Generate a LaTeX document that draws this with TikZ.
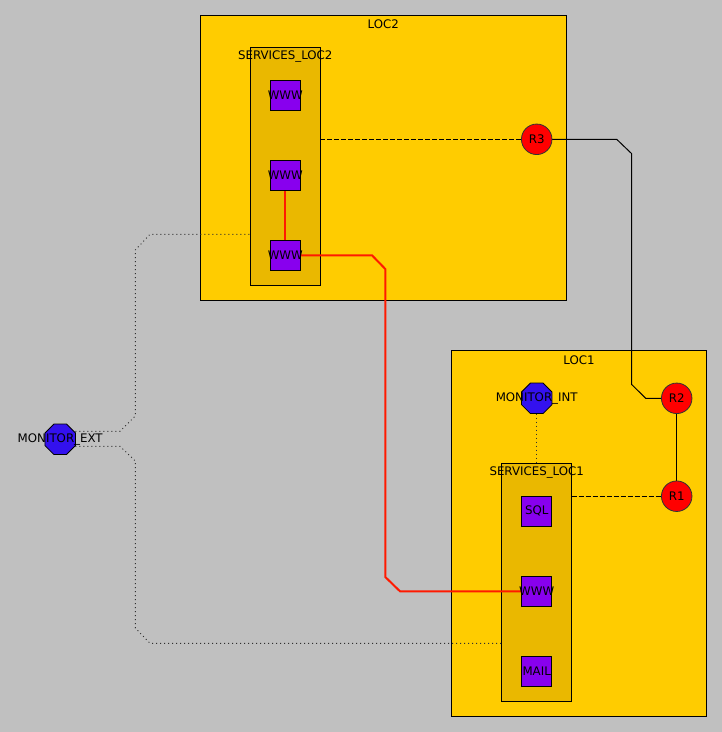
\documentclass[tikz,border=0pt]{standalone}
\usepackage{fontspec}
\setmainfont{DejaVu Sans}
\usetikzlibrary{shapes.geometric}
\definecolor{bgc}{HTML}{C0C0C0}
\definecolor{locfill}{HTML}{FFCC00}
\definecolor{svcfill}{HTML}{EAB800}
\definecolor{leaffill}{HTML}{8800EE}
\definecolor{monfill}{HTML}{3311EE}
\definecolor{rfill}{HTML}{FF0000}
\definecolor{redwire}{HTML}{FF1A00}
\definecolor{dotc}{HTML}{303030}
\pgfdeclarelayer{bgplane}
\pgfdeclarelayer{boxlayer}
\pgfdeclarelayer{edgelayer}
\pgfsetlayers{bgplane,boxlayer,edgelayer,main}
\begin{document}
\begin{tikzpicture}[x=1pt,y=-1pt,
  font=\fontsize{11.8}{14}\selectfont,
  locbox/.style={draw=black, line width=1pt, fill=locfill, anchor=north west, inner sep=0pt, outer sep=0pt},
  svcbox/.style={draw=black, line width=1pt, fill=svcfill, anchor=north west, inner sep=0pt, outer sep=0pt},
  lbl/.style={inner sep=0pt, text=black},
  leaf/.style={draw=black, line width=1pt, fill=leaffill, minimum size=30pt, inner sep=0pt, outer sep=0pt},
  router/.style={circle, draw=black!80, line width=0.8pt, fill=rfill, minimum size=30.5pt, inner sep=0pt, outer sep=0pt},
  mon/.style={regular polygon, regular polygon sides=8, draw=black, line width=0.8pt, fill=monfill, minimum size=33pt, inner sep=0pt, outer sep=0pt},
  wire/.style={draw=black, line width=1pt},
  redline/.style={draw=redwire, line width=2pt},
  dashline/.style={draw=black, line width=0.9pt, dash pattern=on 5pt off 2pt},
  dotline/.style={draw=dotc, line width=0.9pt, dash pattern=on 1pt off 3pt},
]
\useasboundingbox (0,0) rectangle (722,732);
\begin{pgfonlayer}{bgplane}
\fill[bgc] (0,0) rectangle (722,732);
\end{pgfonlayer}

\begin{pgfonlayer}{boxlayer}
\node[locbox, minimum width=366pt, minimum height=285pt] (loc2) at (200.3,15.3) {};
\node[locbox, minimum width=254.6pt, minimum height=365.7pt] (loc1) at (451.7,350.3) {};
\node[svcbox, minimum width=70pt, minimum height=238pt] (svc2) at (250.3,47.3) {};
\node[svcbox, minimum width=70pt, minimum height=238pt] (svc1) at (501.7,463.3) {};
\end{pgfonlayer}

\node[lbl] (loc2lbl) at ([yshift=-8.5pt]loc2.north) {LOC2};
\node[lbl] (loc1lbl) at ([yshift=-9.5pt]loc1.north) {LOC1};
\node[lbl] (svc2lbl) at ([yshift=-9.4pt]svc2.north) {SERVICES\_LOC2};
\node[lbl] (svc1lbl) at ([yshift=-9.4pt]svc1.north) {SERVICES\_LOC1};

\node[leaf, label={center:WWW}] (w2a) at (285.3,95.3) {};
\node[leaf, label={center:WWW}] (w2b) at (285.3,175.3) {};
\node[leaf, label={center:WWW}] (w2c) at (285.3,255.3) {};
\node[leaf, label={center:SQL}] (sql) at (536.7,511.3) {};
\node[leaf, label={center:WWW}] (w1) at (536.7,591.3) {};
\node[leaf, label={center:MAIL}] (mail) at (536.7,671.5) {};

\node[router, label={center:R3}] (r3) at (536.7,139.3) {};
\node[router, label={center:R2}] (r2) at (676.7,398.3) {};
\node[router, label={center:R1}] (r1) at (676.7,496.2) {};

\node[mon, label={center:MONITOR\_INT}] (monint) at (536.7,398.3) {};
\node[mon, label={center:MONITOR\_EXT}] (monext) at (60.2,439.3) {};

\coordinate (c1) at (150,234.3);
\coordinate (c2) at (150,643.3);

\begin{pgfonlayer}{edgelayer}
\draw[dashline] (svc2.east |- r3) -- (r3.west);
\draw[dashline] (svc1.east |- r1) -- (r1.west);
\draw[wire] (r2) -- (r1);
\draw[wire] (r3.east) -- (616.7,139.3) -- (631.5,153.5) -- (631.5,384.3) -- (645.7,398.3) -- (r2.west);
\draw[redline] (w2b) -- (w2c);
\draw[redline] (w2c.east) -- (372,255.3) -- (385.3,269) -- (385.3,577) -- (400,591.3) -- (w1.west);
\draw[dotline] (monint.south) -- (svc1.north);
\draw[dotline] ([yshift=8pt]monext.east) -- (120,431.3) -- (135.3,416) -- (135.3,250) -- (c1) -- (svc2.west |- c1);
\draw[dotline] ([yshift=-7pt]monext.east) -- (120,446.3) -- (135.3,461) -- (135.3,628) -- (c2) -- (svc1.west |- c2);
\end{pgfonlayer}
\end{tikzpicture}
\end{document}
